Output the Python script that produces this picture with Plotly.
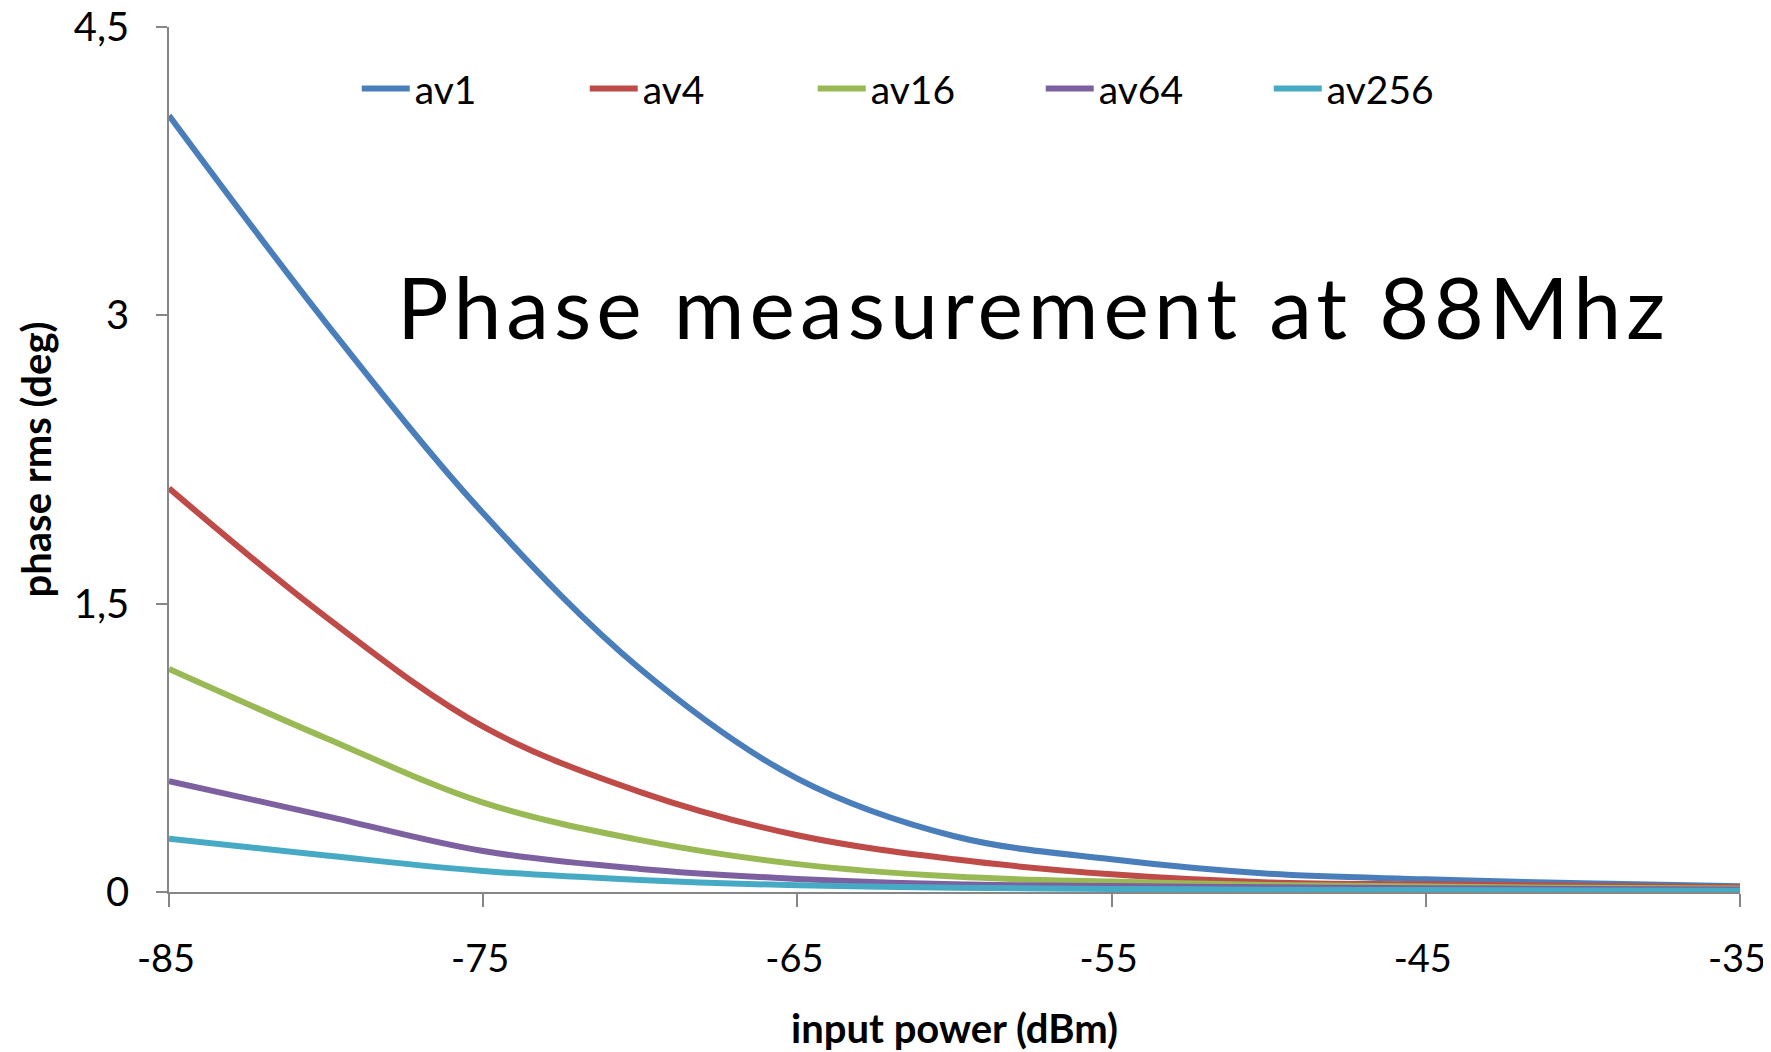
import plotly.graph_objects as go

power_dbm = [-85, -80, -75, -70, -65, -60, -55, -50, -45, -40, -35]

av1 = [4.04, 2.96, 1.97, 1.16, 0.59, 0.29, 0.17, 0.095, 0.066, 0.045, 0.030]
av4 = [2.10, 1.43, 0.86, 0.52, 0.295, 0.17, 0.092, 0.050, 0.040, 0.033, 0.025]
av16 = [1.16, 0.80, 0.465, 0.27, 0.145, 0.080, 0.054, 0.036, 0.028, 0.022, 0.018]
av64 = [0.577, 0.395, 0.213, 0.12, 0.068, 0.040, 0.031, 0.025, 0.020, 0.016, 0.013]
av256 = [0.277, 0.19, 0.109, 0.063, 0.035, 0.022, 0.016, 0.012, 0.010, 0.008, 0.007]

series_names = ["av1", "av4", "av16", "av64", "av256"]
series_values = [av1, av4, av16, av64, av256]
series_colors = ["#4A7EBB", "#BE4B48", "#98B954", "#7D60A0", "#46AAC5"]

y_tickvals = [0, 1.5, 3, 4.5]
y_ticktext = ["0", "1,5", "3", "4,5"]
x_tickvals = [-85, -75, -65, -55, -45, -35]
x_ticktext = ["-85", "-75", "-65", "-55", "-45", "-35"]

FONT = "Lato"

fig = go.Figure()
for name, vals, col in zip(series_names, series_values, series_colors):
    fig.add_trace(go.Scatter(
        x=power_dbm, y=vals, name=name, mode="lines",
        line=dict(color=col, width=6, shape="spline", smoothing=1.0),
    ))

# page body has an 8px default margin: figure is sized/offset to compensate
fig.update_layout(
    width=1763, height=1044,
    paper_bgcolor="white", plot_bgcolor="white",
    margin=dict(l=161, r=31, t=19, b=160),
    font=dict(family=FONT, size=40, color="black"),
    showlegend=True,
    legend=dict(
        orientation="h", x=0.1195, y=0.9287, xanchor="left", yanchor="middle",
        font=dict(family=FONT, size=39, color="black"),
        entrywidth=165, entrywidthmode="pixels",
        itemwidth=48, bgcolor="rgba(0,0,0,0)",
        tracegroupgap=0,
    ),
    xaxis=dict(
        range=[-85, -35], tickvals=x_tickvals, ticktext=x_ticktext,
        automargin=False, ticklabeloverflow="allow",
        showgrid=False, zeroline=False,
        showline=True, linecolor="#868686", linewidth=1.5,
        ticks="outside", ticklen=13, tickwidth=1.5, tickcolor="#868686",
        ticklabelstandoff=20, ticklabelshift=-3,
        tickfont=dict(family=FONT, size=38, color="black"),
        title=dict(text="<b>input power (dBm)</b>", standoff=43,
                   font=dict(family=FONT, size=40, color="black")),
    ),
    yaxis=dict(
        range=[0, 4.5], tickvals=y_tickvals, ticktext=y_ticktext,
        automargin=False, ticklabeloverflow="allow",
        showgrid=False, zeroline=False,
        showline=True, linecolor="#868686", linewidth=1.5,
        ticks="outside", ticklen=11, tickwidth=1.5, tickcolor="#868686",
        ticklabelstandoff=19,
        tickfont=dict(family=FONT, size=40, color="black"),
        title=dict(text="<b>phase rms (deg)</b>", standoff=10,
                   font=dict(family=FONT, size=40, color="black")),
    ),
)

fig.add_annotation(
    text='<span style="letter-spacing:5px">Phase measurement at 88Mhz</span>',
    xref="paper", yref="paper", x=0.1436, y=0.678,
    xanchor="left", yanchor="middle", showarrow=False,
    font=dict(family=FONT, size=86, color="black"),
)

fig.write_html("out.html")
